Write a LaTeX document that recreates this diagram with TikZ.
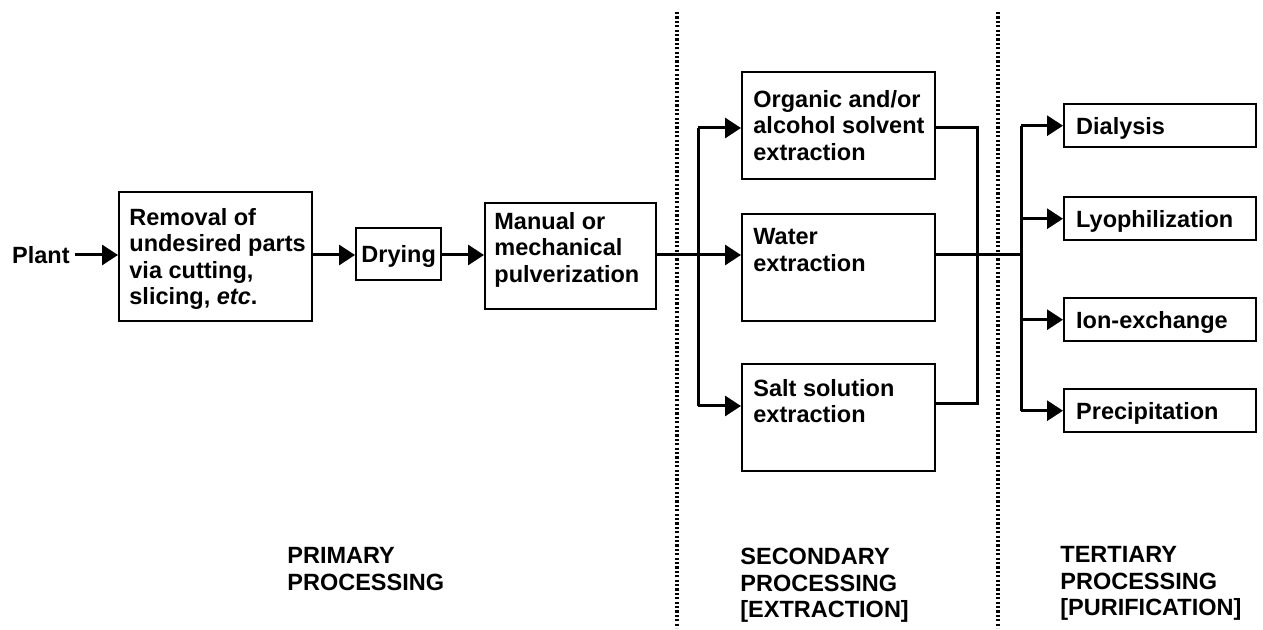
\documentclass[tikz,border=0pt]{standalone}
\usepackage{fontspec}
\setmainfont{Liberation Sans}
\usetikzlibrary{arrows.meta}

\begin{document}
\begin{tikzpicture}[x=0.5pt, y=-0.5pt,
    txt/.style={font=\fontsize{11.75pt}{13.25pt}\selectfont\bfseries, inner sep=0pt, align=left, anchor=north west},
    single/.style={font=\fontsize{11.75pt}{13.25pt}\selectfont\bfseries, text height=8.4pt, text depth=0pt},
    stage/.style={draw, line width=1.2pt, anchor=north west, inner sep=0pt},
    wire/.style={line width=1.5pt},
    arr/.style={line width=1.5pt, -{Triangle[length=8pt,width=10pt]}},
    divider/.style={line width=1.6pt, dash pattern=on 1.1pt off 1.1pt}]
    \useasboundingbox (0,0) rectangle (1263,630);

    % Primary processing
    \node[txt, anchor=east, inner xsep=2.5pt] (plant) at (75,255) {Plant};
    \node[stage, minimum width=96.5pt, minimum height=64.5pt] (removal) at (118,191) {};
    \node[txt] (removal-txt) at (129,208) {Removal of\\undesired parts\\via cutting,\\slicing, \textit{etc}.};
    \node[stage, single, minimum width=42.5pt, minimum height=26pt] (drying) at (355,227) {Drying};
    \node[stage, minimum width=85.5pt, minimum height=53pt] (manual) at (484,202) {};
    \node[txt] (manual-txt) at (494,212) {Manual or\\mechanical\\pulverization};

    % Secondary processing (extraction)
    \node[stage, minimum width=96.5pt, minimum height=53.5pt] (organic) at (741,71) {};
    \node[txt] (organic-txt) at (753,90) {Organic and/or\\alcohol solvent\\extraction};
    \node[stage, minimum width=96.5pt, minimum height=53.5pt] (water) at (741,213) {};
    \node[txt] (water-txt) at (753,228) {Water\\extraction};
    \node[stage, minimum width=96.5pt, minimum height=53.5pt] (salt) at (741,363) {};
    \node[txt] (salt-txt) at (753,379) {Salt solution\\extraction};

    \draw[arr] (plant.east) -- (removal.west |- plant.east);
    \draw[arr] (removal.east |- plant.east) -- (drying.west |- plant.east);
    \draw[arr] (drying.east |- plant.east) -- (manual.west |- plant.east);
    \draw[arr] (manual.east |- plant.east) -- (water.west |- plant.east);

    \coordinate (split-top) at (698,128);
    \coordinate (split-bot) at (698,406);
    \draw[wire] (split-top) -- (split-bot);
    \draw[arr] (split-top) -- (organic.west |- split-top);
    \draw[arr] (split-bot) -- (salt.west |- split-bot);

    \coordinate (join-top) at (977,128);
    \coordinate (join-bot) at (977,404);
    \coordinate (merge) at (1021,255);
    \draw[wire] (organic.east |- join-top) -- (join-top) -- (join-bot) -- (salt.east |- join-bot);
    \draw[wire] (water.east |- plant.east) -- (merge);

    % Tertiary processing (purification)
    \foreach \name/\ytop/\label in {dialysis/103/Dialysis, lyoph/196/Lyophilization, ionex/297/Ion-exchange, precip/388/Precipitation}
        \node[stage, single, minimum width=96pt, minimum height=21.5pt, text width=84pt, align=left, inner xsep=6pt] (\name) at (1063,\ytop) {\label};

    \draw[wire] (merge |- dialysis.west) -- (merge |- precip.west);
    \foreach \name in {dialysis, lyoph, ionex, precip}
        \draw[arr] (merge |- \name.west) -- (\name.west);

    % Dividers
    \draw[divider] (677,12) -- (677,628);
    \draw[divider] (998,12) -- (998,628);

    % Stage labels
    \node[txt] (primary) at (287,547) {PRIMARY\\PROCESSING};
    \node[txt] (secondary) at (740,548) {SECONDARY\\PROCESSING\\{}[EXTRACTION]};
    \node[txt] (tertiary) at (1060,546) {TERTIARY\\PROCESSING\\{}[PURIFICATION]};
\end{tikzpicture}
\end{document}
